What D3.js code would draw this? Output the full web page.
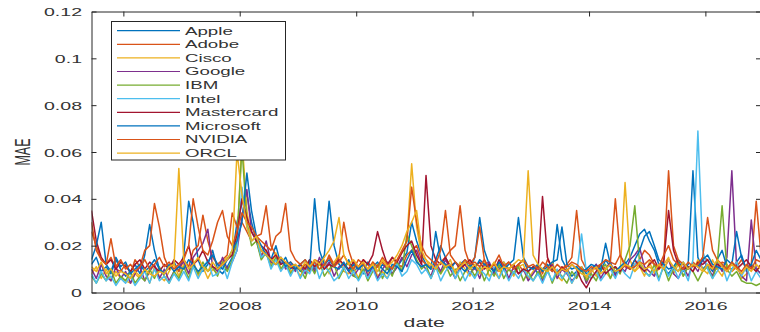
<!DOCTYPE html>
<html>
<head>
<meta charset="utf-8">
<script src="https://cdn.jsdelivr.net/npm/d3@7"></script>
<style>
  html, body { margin: 0; padding: 0; background: #fff; }
  svg { display: block; font-family: "Liberation Sans", Arial, Helvetica, sans-serif; }
</style>
</head>
<body>
<svg id="chart" width="760" height="332"></svg>
<script>
// ---- data (MAE values given in thousandths, i.e. 12 = 0.012) ----
// monthly points, Jun 2005 .. Dec 2016 (rows: 2005 Jun-Dec, then Jan-Dec per year)
const startYear = 2005, startMonth = 5; // June
const seriesNames = ["Apple","Adobe","Cisco","Google","IBM","Intel","Mastercard","Microsoft","NVIDIA","ORCL"];
const seriesColors = ["#0072BD","#D95319","#EDB120","#7E2F8E","#77AC30","#4DBEEE","#A2142F","#0072BD","#D95319","#EDB120"];

const apple = [12,15,9,11,8,14,10,
  7,9,12,8,16,29,18,10,8,11,13,9,
  16,39,30,14,9,12,18,10,8,11,15,30,
  38,42,30,22,18,16,14,20,12,15,10,12,
  9,11,14,10,12,16,39,20,12,10,14,9,
  11,8,13,10,9,12,10,8,11,14,17,30,
  22,16,12,10,14,20,15,11,9,12,14,10,
  15,32,18,12,9,11,13,10,8,12,14,9,
  11,8,10,12,9,29,14,10,7,9,11,8,
  10,12,9,14,11,8,10,12,15,20,25,27,
  22,18,12,10,8,11,14,9,12,52,15,10,
  12,9,14,18,11,10,13,16,9,12,10,8];
const adobe = [26,20,14,12,15,10,9,
  12,8,14,11,18,20,38,28,15,10,12,9,
  14,11,18,20,33,22,15,12,14,16,34,28,
  30,26,22,24,25,37,20,16,14,12,13,11,
  10,12,9,14,13,11,16,12,15,30,18,12,
  10,14,12,9,11,13,10,15,12,11,16,18,
  20,14,12,11,10,13,15,18,20,37,18,12,
  15,28,14,10,12,9,11,13,10,12,9,11,
  10,12,8,14,11,9,10,12,15,35,14,10,
  9,11,12,10,13,12,16,11,10,12,14,18,
  16,12,10,14,52,20,14,12,10,13,11,15,
  14,11,10,13,12,9,11,14,10,12,39,16];
const cisco = [8,11,6,10,5,9,6,
  5,4,8,6,10,4,11,7,5,9,12,7,
  12,8,14,7,11,6,10,8,13,15,16,20,
  66,35,22,24,16,18,12,17,10,13,9,11,
  7,11,13,9,12,14,8,13,16,9,8,11,
  6,12,8,13,7,9,6,11,14,17,22,55,
  28,16,14,10,12,8,11,14,8,13,10,7,
  11,8,13,7,9,6,13,10,7,11,12,6,
  9,12,6,10,13,7,5,10,4,8,11,6,
  10,7,12,9,6,11,8,47,14,9,11,7,
  13,8,10,12,15,8,12,7,11,9,14,10,
  8,14,10,7,12,9,13,6,8,11,9,12];
const google = [10,6,12,7,5,11,6,
  9,4,8,11,5,9,12,6,10,5,9,11,
  13,8,15,18,21,27,11,9,15,10,13,18,
  32,44,26,22,15,22,13,12,15,10,12,9,
  12,8,13,9,15,10,13,7,11,12,9,7,
  10,13,7,11,6,10,13,8,11,15,11,16,
  18,12,10,7,13,9,14,10,6,11,12,8,
  11,6,12,13,8,10,12,6,11,8,10,5,
  8,11,5,9,12,6,10,8,5,7,10,4,
  9,12,6,10,13,7,11,9,14,16,19,11,
  9,7,12,10,14,8,6,11,7,12,9,14,
  11,7,13,9,15,52,11,7,5,31,10,8];
const ibm = [7,4,8,5,10,4,7,
  5,9,4,7,5,10,6,11,7,4,9,6,
  11,6,12,8,13,9,11,7,13,9,14,22,
  62,30,20,22,14,17,11,15,10,13,8,11,
  10,6,12,8,13,7,10,12,6,10,13,7,
  6,10,5,9,12,6,11,7,13,9,25,20,
  14,10,12,6,11,8,12,7,10,5,9,11,
  7,11,5,10,7,12,6,10,8,11,5,9,
  5,9,6,10,4,9,7,4,9,6,10,5,
  8,5,10,12,6,11,8,14,20,37,12,9,
  7,12,6,11,5,10,13,7,11,9,5,9,
  11,6,12,37,10,7,9,5,4,4,3,4];
const intel = [8,4,9,5,7,3,6,
  4,7,3,6,9,4,10,5,7,4,8,5,
  9,5,11,6,10,14,7,8,12,6,13,18,
  45,28,22,24,15,17,10,14,9,12,7,11,
  6,10,8,13,6,11,9,5,7,11,6,9,
  5,9,6,10,5,8,6,10,12,7,9,14,
  12,8,10,6,11,5,9,12,6,10,5,9,
  6,10,8,5,11,6,10,5,9,6,10,7,
  5,8,4,9,5,10,6,9,4,8,25,9,
  6,9,5,8,10,6,11,8,6,12,14,9,
  7,10,5,12,7,11,6,10,5,14,69,18,
  10,6,9,12,5,10,13,7,11,5,9,6];
const mastercard = [35,22,15,12,14,10,13,
  11,9,12,14,10,13,11,9,12,10,14,12,
  15,20,12,14,18,13,11,10,12,14,16,25,
  40,32,26,22,20,18,14,16,12,13,11,10,
  12,10,14,11,13,10,12,11,14,12,10,13,
  11,14,12,16,26,18,12,15,13,17,20,22,
  16,12,50,20,14,12,15,11,13,10,12,14,
  11,13,10,12,9,14,11,10,12,8,10,9,
  11,10,41,15,10,8,11,9,12,10,5,2,
  6,9,12,8,10,11,9,12,10,14,11,9,
  12,14,10,13,35,18,12,10,11,9,13,12,
  14,10,12,11,9,13,10,12,14,11,9,12];
const microsoft = [14,20,30,12,9,15,11,
  13,8,10,12,9,11,14,10,8,12,9,11,
  10,14,12,9,11,13,16,12,10,14,18,22,
  30,51,35,24,20,16,14,12,15,11,13,10,
  12,14,10,40,18,12,14,11,10,13,9,12,
  10,12,9,11,13,10,8,12,11,9,14,18,
  13,11,12,10,26,14,12,10,13,11,9,12,
  10,14,12,11,9,13,10,12,14,32,15,11,
  10,12,9,11,13,14,28,12,10,11,9,10,
  12,11,10,21,12,9,11,13,10,14,18,24,
  26,20,14,12,10,11,9,13,10,12,11,14,
  16,12,11,10,14,12,26,15,10,12,18,14];
const nvidia = [30,18,14,12,23,11,14,
  10,12,9,11,14,10,12,15,11,13,10,12,
  14,20,40,28,18,16,22,30,35,24,20,26,
  34,30,28,24,22,20,18,24,26,38,18,14,
  12,14,11,13,10,12,15,11,13,16,12,10,
  14,12,10,13,11,15,12,10,14,18,22,45,
  30,20,16,14,12,18,35,16,13,11,14,12,
  13,11,14,10,12,16,11,13,10,12,14,11,
  12,10,13,11,9,12,10,11,13,12,10,9,
  11,10,12,14,13,40,16,12,10,11,13,12,
  14,12,11,16,20,14,12,10,13,11,12,15,
  32,18,14,12,10,13,11,9,12,10,14,13];
const orcl = [11,9,13,8,10,7,9,
  8,6,9,7,10,8,7,9,8,11,12,53,
  14,10,12,15,11,9,13,10,12,14,18,60,
  42,28,22,24,18,16,14,12,15,13,11,12,
  10,13,11,14,12,15,18,22,32,16,12,14,
  11,13,10,12,9,14,11,13,16,20,26,30,
  35,18,14,12,10,13,11,12,9,11,13,10,
  12,9,11,10,13,9,11,10,12,14,13,52,
  16,12,10,9,11,8,10,9,12,10,8,7,
  9,11,8,10,12,9,10,12,11,9,13,10,
  11,9,12,10,14,11,9,13,10,12,11,9,
  12,10,14,11,9,12,10,8,11,9,12,10];
const UNIT = 0.001;

const yTicks = [0, 0.02, 0.04, 0.06, 0.08, 0.1, 0.12];
const yTickLabels = ["0", "0.02", "0.04", "0.06", "0.08", "0.1", "0.12"];
const xTickYears = [2006, 2008, 2010, 2012, 2014, 2016];
const xLabel = "date", yLabel = "MAE";

const seriesValues = [apple, adobe, cisco, google, ibm, intel, mastercard, microsoft, nvidia, orcl];

// ---- layout ----
const L = 91.5, R = 761, T = 11.5, B = 292.5;
const SX = 1.7; // horizontal stretch of the reference figure's text
const axisColor = "#262626", textColor = "#333";

const svg = d3.select("#chart");
const n = apple.length;
const dates = d3.range(n).map(i => new Date(startYear, startMonth + i, 15));

const x = d3.scaleTime().domain([dates[0], dates[n - 1]]).range([L, R]);
const y = d3.scaleLinear().domain([0, 0.12]).range([B, T]);

// clip
svg.append("defs").append("clipPath").attr("id", "clip")
  .append("rect").attr("x", L).attr("y", T).attr("width", R - L).attr("height", B - T);

// lines
const line = d3.line().x((d, i) => x(dates[i])).y(d => y(d * UNIT));
const gLines = svg.append("g").attr("clip-path", "url(#clip)");
seriesValues.forEach((vals, k) => {
  gLines.append("path").datum(vals)
    .attr("d", line)
    .attr("fill", "none")
    .attr("stroke", seriesColors[k])
    .attr("stroke-width", 1.5)
    .attr("stroke-linejoin", "round");
});

// axes
const xTickDates = xTickYears.map(yr => new Date(yr, 0, 1));
const styleAxis = g => {
  g.select(".domain").attr("stroke", axisColor).attr("stroke-width", 1);
  g.selectAll(".tick line").attr("stroke", axisColor).attr("stroke-width", 1);
};
const gx = svg.append("g").attr("transform", `translate(0,${B})`)
  .call(d3.axisBottom(x).tickValues(xTickDates).tickFormat(d3.timeFormat("%Y")).tickSizeInner(-5).tickSizeOuter(0));
styleAxis(gx);
gx.selectAll(".tick text")
  .attr("x", null).attr("y", null).attr("dy", null)
  .attr("transform", `translate(0,17.5) scale(${SX},1)`)
  .attr("fill", textColor).attr("font-size", 11.5)
  .attr("font-family", "Liberation Sans, Arial, sans-serif")
  .attr("text-anchor", "middle");

const gxTop = svg.append("g").attr("transform", `translate(0,${T})`)
  .call(d3.axisTop(x).tickValues(xTickDates).tickFormat("").tickSizeInner(-5).tickSizeOuter(0));
styleAxis(gxTop);

const gy = svg.append("g").attr("transform", `translate(${L},0)`)
  .call(d3.axisLeft(y).tickValues(yTicks).tickFormat((d, i) => yTickLabels[i]).tickSizeInner(-5).tickSizeOuter(0));
styleAxis(gy);
gy.selectAll(".tick text")
  .attr("x", null).attr("dy", "0.35em")
  .attr("transform", `translate(-9.5,0) scale(${SX},1)`)
  .attr("fill", textColor).attr("font-size", 11.5)
  .attr("font-family", "Liberation Sans, Arial, sans-serif")
  .attr("text-anchor", "end");

const gyRight = svg.append("g").attr("transform", `translate(${R},0)`)
  .call(d3.axisRight(y).tickValues(yTicks).tickFormat("").tickSizeInner(-5).tickSizeOuter(0));
styleAxis(gyRight);

// axis labels
svg.append("text")
  .attr("transform", `translate(${(L + R) / 2 - 2},327) scale(${SX},1)`)
  .attr("text-anchor", "middle").attr("font-size", 12.5).attr("fill", textColor)
  .text(xLabel);
svg.append("text")
  .attr("transform", `translate(29.5,${(T + B) / 2}) scale(${SX},1) rotate(-90)`)
  .attr("text-anchor", "middle").attr("font-size", 12.5).attr("fill", textColor)
  .text(yLabel);

// legend
const lg = svg.append("g");
lg.append("rect")
  .attr("x", 111.5).attr("y", 21.5).attr("width", 174).attr("height", 138.5)
  .attr("fill", "#fff").attr("stroke", axisColor).attr("stroke-width", 1);
seriesNames.forEach((name, k) => {
  const yy = 30.7 + k * 13.6;
  lg.append("line").attr("x1", 117).attr("x2", 180).attr("y1", yy).attr("y2", yy)
    .attr("stroke", seriesColors[k]).attr("stroke-width", 1.2);
  lg.append("text")
    .attr("transform", `translate(185,${yy}) scale(${SX},1)`)
    .attr("dy", "0.36em").attr("font-size", 11).attr("fill", textColor)
    .text(name);
});
</script>
</body>
</html>
